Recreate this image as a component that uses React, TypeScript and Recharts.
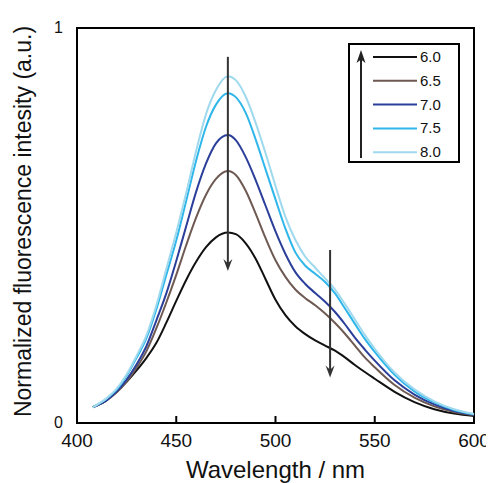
import React from 'react';
import { LineChart, Line, XAxis, YAxis, ReferenceLine, ReferenceArea } from 'recharts';

const wavelengths = [408, 415, 420, 425, 430, 435, 440, 445, 450, 455, 460, 465, 470, 476, 480, 485, 490, 495, 500, 505, 510, 515, 520, 525, 530, 535, 540, 545, 550, 560, 570, 580, 590, 600];

const ph60 = [0.040, 0.058, 0.079, 0.104, 0.133, 0.165, 0.203, 0.254, 0.309, 0.362, 0.408, 0.445, 0.470, 0.482, 0.478, 0.455, 0.416, 0.364, 0.312, 0.273, 0.245, 0.225, 0.209, 0.196, 0.183, 0.166, 0.147, 0.129, 0.112, 0.079, 0.053, 0.035, 0.024, 0.018];
const ph65 = [0.040, 0.058, 0.078, 0.105, 0.140, 0.182, 0.240, 0.305, 0.375, 0.450, 0.520, 0.578, 0.618, 0.638, 0.628, 0.588, 0.530, 0.468, 0.412, 0.370, 0.338, 0.316, 0.298, 0.277, 0.253, 0.226, 0.196, 0.166, 0.141, 0.096, 0.064, 0.042, 0.028, 0.020];
const ph70 = [0.040, 0.058, 0.080, 0.110, 0.148, 0.195, 0.260, 0.328, 0.410, 0.498, 0.585, 0.657, 0.708, 0.729, 0.716, 0.673, 0.615, 0.550, 0.485, 0.428, 0.382, 0.352, 0.329, 0.307, 0.281, 0.250, 0.216, 0.186, 0.158, 0.108, 0.072, 0.047, 0.030, 0.021];
const ph75 = [0.040, 0.062, 0.085, 0.120, 0.165, 0.215, 0.288, 0.375, 0.462, 0.562, 0.664, 0.750, 0.806, 0.835, 0.825, 0.785, 0.718, 0.642, 0.566, 0.492, 0.432, 0.398, 0.378, 0.357, 0.328, 0.290, 0.251, 0.213, 0.180, 0.122, 0.080, 0.052, 0.033, 0.022];
const ph80 = [0.040, 0.063, 0.087, 0.123, 0.170, 0.222, 0.298, 0.390, 0.482, 0.582, 0.688, 0.782, 0.843, 0.878, 0.868, 0.826, 0.760, 0.683, 0.600, 0.522, 0.464, 0.421, 0.393, 0.366, 0.338, 0.301, 0.262, 0.223, 0.188, 0.128, 0.085, 0.055, 0.035, 0.023];

const seriesNames = ['6.0', '6.5', '7.0', '7.5', '8.0'];
const seriesColors = ['#111111', '#6e5a52', '#2b3f9a', '#2fb6ea', '#9fd9ee'];
const seriesValues = [ph60, ph65, ph70, ph75, ph80];

const xTicks = [400, 450, 500, 550, 600];
const yTicks = [0, 1];
const yTickLabels = ['0', '1'];

// annotation arrows: [wavelength, fromValue, toValue]
const arrows = [
  [476, 0.927, 0.385],
  [527.5, 0.438, 0.115],
];

const data = wavelengths.map((w, i) => {
  const row: any = { w };
  seriesNames.forEach((n, k) => { row[n] = seriesValues[k][i]; });
  return row;
});

const FONT = '"Liberation Sans", Arial, sans-serif';

const XTick = (props: any) => {
  const { x, y, payload } = props;
  const v = payload.value;
  const inner = v !== 400 && v !== 600;
  return (
    <g>
      {inner && <line x1={x} y1={y} x2={x} y2={y - 7} stroke="#000" strokeWidth={2} />}
      <text x={x} y={y + 24} textAnchor="middle" fontSize={19} fontFamily={FONT} fill="#111">{v}</text>
    </g>
  );
};

const YTick = (props: any) => {
  const { x, y, payload } = props;
  const idx = yTicks.indexOf(payload.value);
  return (
    <text x={x} y={y + 5} textAnchor="end" fontSize={16} fontFamily={FONT} fill="#111">{yTickLabels[idx]}</text>
  );
};

const ArrowShape = (props: any) => {
  const { x1, y1, x2, y2, up } = props;
  if (x1 == null) return null;
  const tipY = up ? Math.min(y1, y2) : Math.max(y1, y2);
  const baseY = up ? Math.max(y1, y2) : Math.min(y1, y2);
  const dir = up ? 1 : -1;
  const hl = 12;
  return (
    <g>
      <line x1={x1} y1={baseY} x2={x1} y2={tipY + dir * hl * 0.6} stroke="#333" strokeWidth={2} />
      <polygon points={`${x1},${tipY} ${x1 - 4.5},${tipY + dir * hl} ${x1},${tipY + dir * hl * 0.65} ${x1 + 4.5},${tipY + dir * hl}`} fill="#333" />
    </g>
  );
};

const LegendBox = () => {
  return (
    <svg width={112} height={120} style={{ display: 'block' }}>
      <rect x={1} y={1} width={110} height={118} fill="#fff" stroke="#000" strokeWidth={2} />
      <line x1={13} y1={115} x2={13} y2={14} stroke="#222" strokeWidth={2} />
      <polygon points="13,7 8.5,20 13,16.5 17.5,20" fill="#222" />
      {seriesNames.map((n, i) => (
        <g key={n}>
          <line x1={25} y1={14 + i * 23.8} x2={69} y2={14 + i * 23.8} stroke={seriesColors[i]} strokeWidth={2} />
          <text x={72} y={14 + i * 23.8 + 5} fontSize={15} fontFamily={FONT} fill="#111">{n}</text>
        </g>
      ))}
    </svg>
  );
};

export default function App() {
  return (
    <div style={{ position: 'relative', width: 486, height: 475, background: '#fff' }}>
      <LineChart width={486} height={475} data={data} margin={{ top: 20, right: 20, bottom: 0, left: 29 }}>
        <XAxis
          dataKey="w"
          type="number"
          domain={[400, 600]}
          ticks={xTicks}
          tick={<XTick />}
          tickSize={0}
          tickMargin={0}
          tickLine={false}
          height={60}
          axisLine={{ stroke: '#000', strokeWidth: 2 }}
          label={(p: any) => {
            const vb = p.viewBox;
            return (
              <text x={vb.x + vb.width / 2} y={vb.y + 55} textAnchor="middle" fontSize={24} fontFamily={FONT} fill="#111">Wavelength / nm</text>
            );
          }}
        />
        <YAxis
          type="number"
          domain={[0, 1]}
          ticks={yTicks}
          tick={<YTick />}
          tickSize={0}
          tickMargin={14}
          tickLine={false}
          width={40}
          axisLine={{ stroke: '#000', strokeWidth: 2 }}
          label={(p: any) => {
            const vb = p.viewBox;
            const cx = 15;
            const cy = vb.y + vb.height / 2 - 4;
            return (
              <text x={cx} y={cy} transform={`rotate(-90, ${cx}, ${cy})`} textAnchor="middle" dominantBaseline="central" fontSize={23} fontFamily={FONT} fill="#111">Normalized fluorescence intesity  (a.u.)</text>
            );
          }}
        />
        <ReferenceArea x1={400} x2={600} y1={0} y2={1} fill="none" fillOpacity={0} stroke="#000" strokeWidth={2} strokeOpacity={1} ifOverflow="visible" />
        {seriesNames.map((n, k) => (
          <Line key={n} dataKey={n} name={n} type="monotone" stroke={seriesColors[k]} strokeWidth={2} dot={false} isAnimationActive={false} />
        ))}
        {arrows.map((a, i) => (
          <ReferenceLine key={i} segment={[{ x: a[0], y: a[1] }, { x: a[0], y: a[2] }]} shape={<ArrowShape up={false} />} ifOverflow="visible" />
        ))}
      </LineChart>
      <div style={{ position: 'absolute', left: 340, top: 35 }}>
        <LegendBox />
      </div>
    </div>
  );
}
